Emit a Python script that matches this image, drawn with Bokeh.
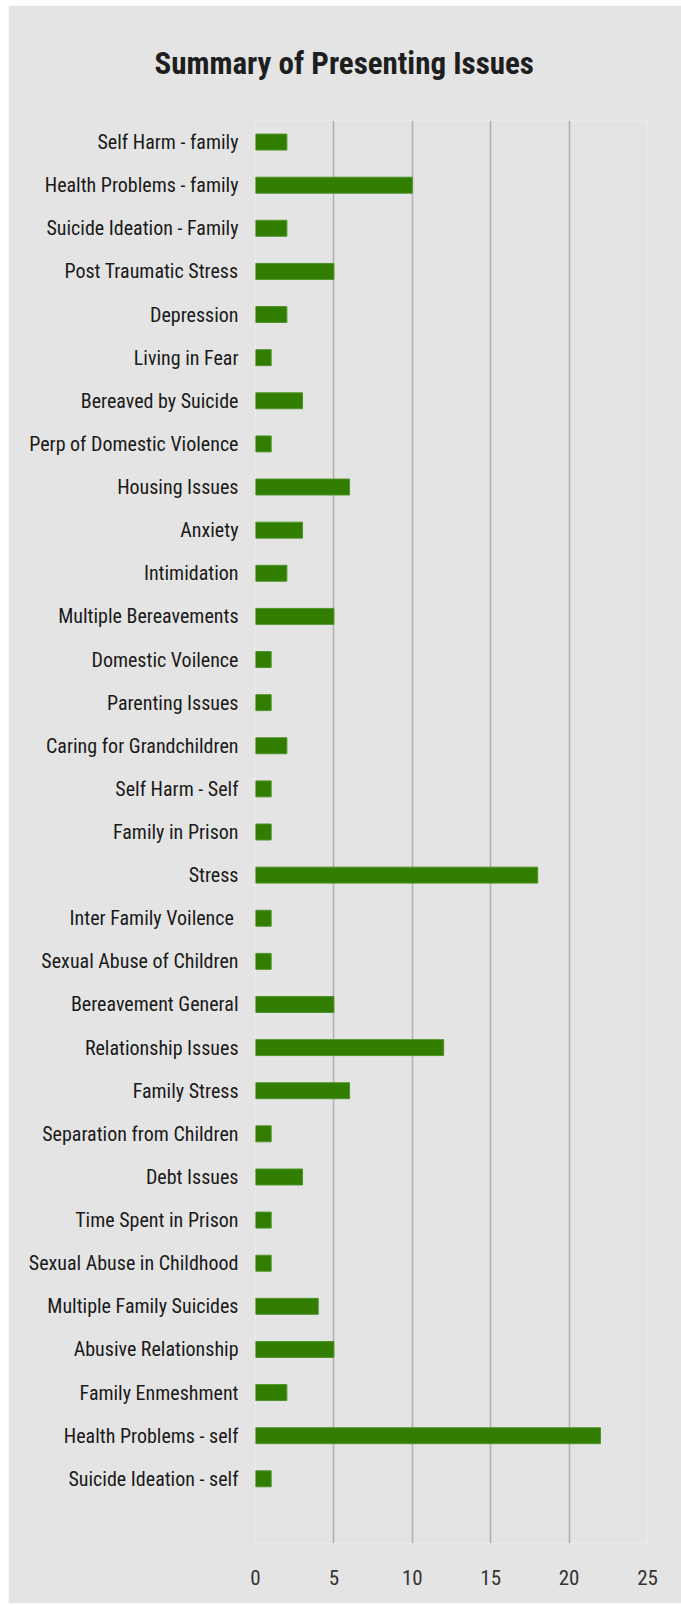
from bokeh.plotting import figure
from bokeh.models import FactorRange, Range1d, FixedTicker
from bokeh.embed import file_html
from bokeh.resources import INLINE

categories = [
    "Self Harm - family",
    "Health Problems - family",
    "Suicide Ideation - Family",
    "Post Traumatic Stress",
    "Depression",
    "Living in Fear",
    "Bereaved by Suicide",
    "Perp of Domestic Violence",
    "Housing Issues",
    "Anxiety",
    "Intimidation",
    "Multiple Bereavements",
    "Domestic Voilence",
    "Parenting Issues",
    "Caring for Grandchildren",
    "Self Harm - Self",
    "Family in Prison",
    "Stress",
    "Inter Family Voilence ",
    "Sexual Abuse of Children",
    "Bereavement General",
    "Relationship Issues",
    "Family Stress",
    "Separation from Children",
    "Debt Issues",
    "Time Spent in Prison",
    "Sexual Abuse in Childhood",
    "Multiple Family Suicides",
    "Abusive Relationship",
    "Family Enmeshment",
    "Health Problems - self",
    "Suicide Ideation - self",
]
counts = [2, 10, 2, 5, 2, 1, 3, 1, 6, 3, 2, 5, 1, 1, 2, 1, 1, 18, 1, 1,
          5, 12, 6, 1, 3, 1, 1, 4, 5, 2, 22, 1]
x_ticks = [0, 5, 10, 15, 20, 25]

FONT = "'Liberation Sans Narrow', 'Roboto Condensed', 'DejaVu Sans Condensed', Roboto"
BG = "#e4e4e4"

factors = [""] + categories[::-1]

p = figure(
    width=673, height=1598,
    y_range=FactorRange(factors=factors),
    x_range=Range1d(0, 25),
    output_backend="svg", toolbar_location=None,
    min_border_left=247, min_border_right=34,
    min_border_top=115, min_border_bottom=60,
    title="Summary of Presenting Issues",
)
p.margin = (5, 0, 0, 8)
p.background_fill_color = BG
p.border_fill_color = BG
p.outline_line_color = None

p.title.text_font = FONT
p.title.text_font_size = "31px"
p.title.text_font_style = "bold"
p.title.text_color = "#1e1e1e"
p.title.align = "left"
p.title.offset = -101
p.title.vertical_align = "middle"
p.title.standoff = 76

p.hbar(y=categories, right=counts, left=0, height=0.37,
       fill_color="#317d00", line_color="#4e9428", line_width=1)

p.xgrid.ticker = FixedTicker(ticks=x_ticks)
p.xgrid.grid_line_color = "#b2b2b2"
p.xgrid.grid_line_width = 1.6
p.ygrid.grid_line_color = None

p.xaxis.ticker = FixedTicker(ticks=x_ticks)
p.xaxis.axis_line_color = None
p.xaxis.major_tick_line_color = None
p.xaxis.minor_tick_line_color = None
p.xaxis.major_tick_out = 0
p.xaxis.major_label_standoff = 26
p.xaxis.major_label_text_font = FONT
p.xaxis.major_label_text_font_size = "21px"
p.xaxis.major_label_text_color = "#333333"

p.yaxis.axis_line_color = None
p.yaxis.major_tick_line_color = None
p.yaxis.minor_tick_line_color = None
p.yaxis.major_tick_out = 0
p.yaxis.major_label_standoff = 17
p.yaxis.major_label_text_font = FONT
p.yaxis.major_label_text_font_size = "20px"
p.yaxis.major_label_text_color = "#1a1a1a"

open("out.html", "w").write(file_html(p, INLINE))
